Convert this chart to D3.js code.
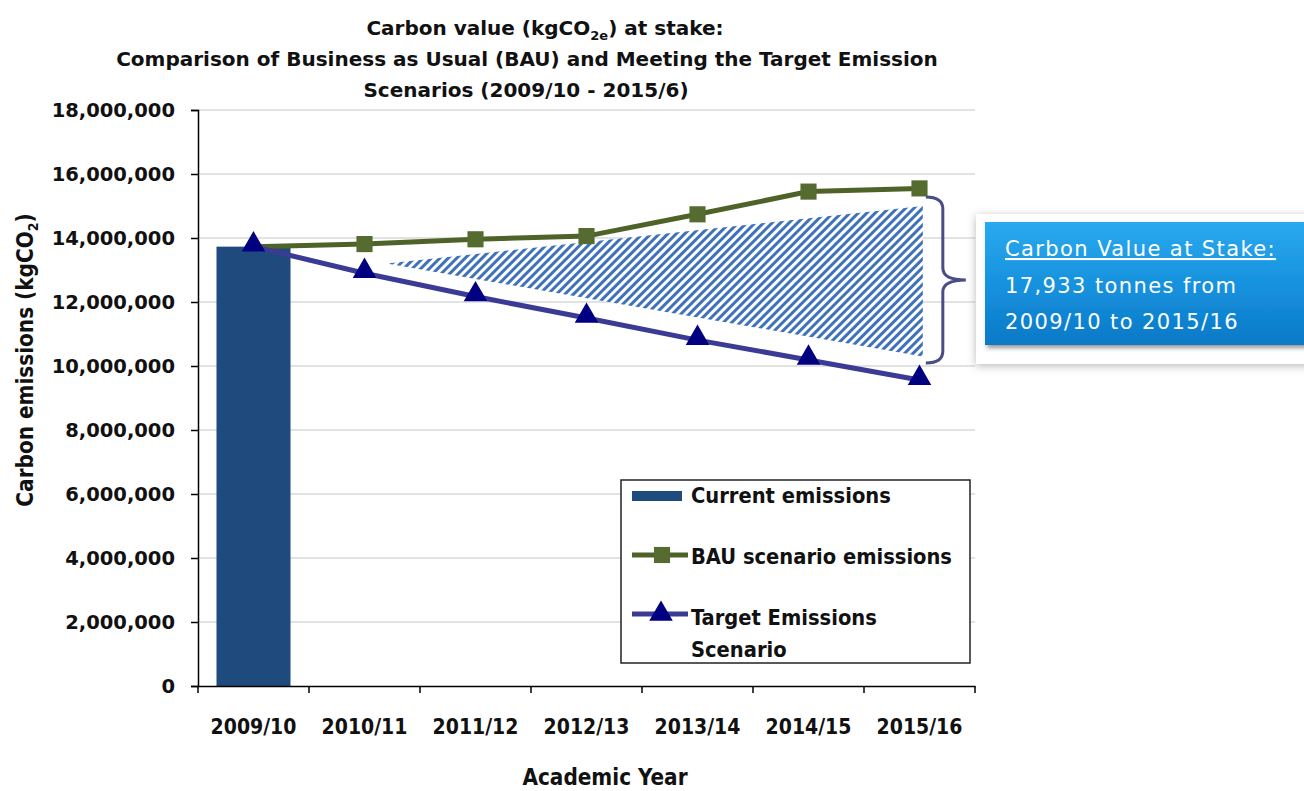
<!DOCTYPE html>
<html lang="en">
<head>
  <meta charset="UTF-8">
  <title>Carbon value at stake</title>
  <style>
    body { margin: 0; background: #fff; }
  </style>
</head>
<body>
  <script src="https://d3js.org/d3.v7.min.js"></script>
  <script>
    const years = ["2009/10", "2010/11", "2011/12", "2012/13", "2013/14", "2014/15", "2015/16"];
    const currentYears = ["2009/10"];
    const currentEmissions = [13730000];
    const bauEmissions = [13730000, 13810000, 13960000, 14060000, 14740000, 15450000, 15550000];
    const targetEmissions = [13730000, 12900000, 12170000, 11500000, 10810000, 10190000, 9560000];
    const yTicks = [0, 2000000, 4000000, 6000000, 8000000, 10000000, 12000000, 14000000, 16000000, 18000000];
    // the hatched "value at stake" wedge, in category-index / kg units
    const wedgeIndex = [1.2, 6.03];
    const wedgeTop = [13200000, 15000000];
    const wedgeBottom = [13200000, 10300000];
    const braceRange = [15280000, 10090000];

    const [width, height] = [1304, 791];
    const margin = { top: 110, right: 329, bottom: 105, left: 198 };
    const cond = "'DejaVu Sans Condensed', 'DejaVu Sans', sans-serif";
    const plain = "'DejaVu Sans', sans-serif";

    const x = d3.scaleBand()
      .domain(years)
      .range([margin.left, width - margin.right]);
    const y = d3.scaleLinear()
      .domain([0, 18000000])
      .range([height - margin.bottom, margin.top]);
    const cx = d => x(d) + x.bandwidth() / 2;
    const xi = d3.scaleLinear().domain([0, years.length - 1]).range([cx(years[0]), cx(years[years.length - 1])]);

    const svg = d3.select(document.body)
      .append("svg")
      .attr("width", width)
      .attr("height", height)
      .attr("viewBox", [0, 0, width, height])
      .attr("font-family", cond);

    const defs = svg.append("defs");
    const hatch = defs.append("pattern")
      .attr("id", "hatch")
      .attr("patternUnits", "userSpaceOnUse")
      .attr("width", 6).attr("height", 6)
      .attr("patternTransform", "rotate(45)");
    hatch.append("rect").attr("width", 6).attr("height", 6).attr("fill", "#fff");
    hatch.append("rect").attr("width", 3).attr("height", 6).attr("fill", "#3f72b8");

    const grad = defs.append("linearGradient")
      .attr("id", "boxGrad").attr("x1", 0).attr("y1", 0).attr("x2", 0).attr("y2", 1);
    grad.append("stop").attr("offset", "0%").attr("stop-color", "#2aa9ee");
    grad.append("stop").attr("offset", "55%").attr("stop-color", "#1590dd");
    grad.append("stop").attr("offset", "100%").attr("stop-color", "#0b79c6");

    const soft = defs.append("filter").attr("id", "soft")
      .attr("x", "-10%").attr("y", "-20%").attr("width", "130%").attr("height", "150%");
    soft.append("feDropShadow").attr("dx", 0).attr("dy", 2).attr("stdDeviation", 4)
      .attr("flood-color", "#888").attr("flood-opacity", 0.6);
    const hard = defs.append("filter").attr("id", "hard")
      .attr("x", "-10%").attr("y", "-20%").attr("width", "130%").attr("height", "150%");
    hard.append("feDropShadow").attr("dx", 2).attr("dy", 3).attr("stdDeviation", 2)
      .attr("flood-color", "#333").attr("flood-opacity", 0.5);

    // title
    const title = svg.append("g")
      .attr("font-family", plain)
      .attr("font-weight", "bold")
      .attr("font-size", 20)
      .attr("text-anchor", "middle")
      .attr("fill", "#111");
    const t1 = title.append("text").attr("x", 545).attr("y", 35);
    t1.append("tspan").text("Carbon value (kgCO");
    t1.append("tspan").attr("font-size", 13).attr("dy", 5).text("2e");
    t1.append("tspan").attr("dy", -5).text(") at stake:");
    title.append("text").attr("x", 527).attr("y", 66)
      .text("Comparison of Business as Usual (BAU) and Meeting the Target Emission");
    title.append("text").attr("x", 526).attr("y", 97)
      .text("Scenarios (2009/10 - 2015/6)");

    // gridlines
    svg.append("g")
      .attr("stroke", "#d9d9d9")
      .attr("stroke-width", 1.5)
      .selectAll("line")
      .data(yTicks.filter(d => d > 0))
      .join("line")
      .attr("x1", margin.left).attr("x2", width - margin.right)
      .attr("y1", d => y(d)).attr("y2", d => y(d));

    // y axis
    svg.append("g")
      .attr("transform", `translate(${margin.left},0)`)
      .call(d3.axisLeft(y).tickValues(yTicks).tickFormat(d3.format(",")).tickSize(7).tickPadding(16))
      .call(g => g.selectAll("path, line").attr("stroke", "#000").attr("stroke-width", 1.5))
      .call(g => g.selectAll("text")
        .attr("font-family", plain)
        .attr("font-weight", "bold")
        .attr("font-size", 19.5)
        .attr("fill", "#111"));

    const ylab = svg.append("text")
      .attr("transform", `translate(33,360) rotate(-90)`)
      .attr("text-anchor", "middle")
      .attr("font-weight", "bold")
      .attr("font-size", 22.3)
      .attr("fill", "#111");
    ylab.append("tspan").text("Carbon emissions (kgCO");
    ylab.append("tspan").attr("font-size", 14).attr("dy", 5).text("2");
    ylab.append("tspan").attr("dy", -5).text(")");

    // bar
    const barW = 74;
    svg.append("g")
      .attr("fill", "#1f4a7d")
      .selectAll("rect")
      .data(currentYears.map((d, i) => [d, currentEmissions[i]]))
      .join("rect")
      .attr("x", d => cx(d[0]) - barW / 2)
      .attr("width", barW)
      .attr("y", d => y(d[1]))
      .attr("height", d => y(0) - y(d[1]));

    // hatched wedge
    const area = d3.area()
      .x(d => xi(d[0]))
      .y0(d => y(d[2]))
      .y1(d => y(d[1]));
    svg.append("path")
      .datum(wedgeIndex.map((d, i) => [d, wedgeTop[i], wedgeBottom[i]]))
      .attr("fill", "url(#hatch)")
      .attr("d", area);

    // x axis
    const xAxisY = y(0);
    svg.append("g")
      .attr("transform", `translate(0,${xAxisY})`)
      .call(d3.axisBottom(x).tickSize(0).tickPadding(33))
      .call(g => g.select(".domain").attr("stroke", "#000").attr("stroke-width", 1.5))
      .call(g => g.selectAll("text")
        .attr("font-family", cond)
        .attr("font-weight", "bold")
        .attr("font-size", 21)
        .attr("fill", "#111"))
      .call(g => g.append("g")
        .attr("stroke", "#000")
        .attr("stroke-width", 1.5)
        .selectAll("line")
        .data(years.map(d => x(d)).concat([x.range()[1]]))
        .join("line")
        .attr("x1", d => d).attr("x2", d => d)
        .attr("y1", 0).attr("y2", 7));

    svg.append("text")
      .attr("x", 605)
      .attr("y", 785)
      .attr("text-anchor", "middle")
      .attr("font-weight", "bold")
      .attr("font-size", 22.3)
      .attr("fill", "#111")
      .text("Academic Year");

    // series
    const bauColor = "#4f6228";
    const targetColor = "#3b3b96";
    const line = d3.line().x((d, i) => cx(years[i])).y(d => y(d));

    svg.append("path")
      .datum(bauEmissions)
      .attr("fill", "none")
      .attr("stroke", bauColor)
      .attr("stroke-width", 5)
      .attr("d", line);
    svg.append("path")
      .datum(targetEmissions)
      .attr("fill", "none")
      .attr("stroke", targetColor)
      .attr("stroke-width", 5)
      .attr("d", line);

    const square = d3.symbol().type(d3.symbolSquare).size(260);
    const triangle = d3.symbol().type(d3.symbolTriangle).size(240);

    svg.append("g")
      .attr("fill", "#556b2f")
      .selectAll("path")
      .data(bauEmissions.slice(1))
      .join("path")
      .attr("transform", (d, i) => `translate(${cx(years[i + 1])},${y(d)})`)
      .attr("d", square);
    svg.append("g")
      .attr("fill", "#000080")
      .selectAll("path")
      .data(targetEmissions)
      .join("path")
      .attr("transform", (d, i) => `translate(${cx(years[i])},${y(d) - 2})`)
      .attr("d", triangle);

    // curly brace
    const bx = xi(wedgeIndex[1]) + 3;
    const [bTop, bBot] = braceRange.map(y);
    const bMid = (bTop + bBot) / 2;
    const arm = 17, tip = 40, r = 12;
    svg.append("path")
      .attr("fill", "none")
      .attr("stroke", "#4a4c88")
      .attr("stroke-width", 3)
      .attr("d", `M${bx},${bTop}
        Q${bx + arm},${bTop} ${bx + arm},${bTop + r}
        L${bx + arm},${bMid - r}
        Q${bx + arm},${bMid} ${bx + tip},${bMid}
        Q${bx + arm},${bMid} ${bx + arm},${bMid + r}
        L${bx + arm},${bBot - r}
        Q${bx + arm},${bBot} ${bx},${bBot}`);

    // callout
    const callout = svg.append("g");
    callout.append("rect")
      .attr("x", 976).attr("y", 214)
      .attr("width", 340).attr("height", 150)
      .attr("fill", "#fff")
      .attr("filter", "url(#soft)");
    callout.append("rect")
      .attr("x", 985).attr("y", 222)
      .attr("width", 330).attr("height", 123)
      .attr("fill", "url(#boxGrad)")
      .attr("filter", "url(#hard)");
    const ct = callout.append("g")
      .attr("font-family", plain)
      .attr("font-size", 21)
      .attr("letter-spacing", 1.4)
      .attr("fill", "#fff");
    ct.append("text").attr("x", 1005).attr("y", 256)
      .attr("text-decoration", "underline")
      .text("Carbon Value at Stake:");
    ct.append("text").attr("x", 1005).attr("y", 293).text("17,933 tonnes from");
    ct.append("text").attr("x", 1005).attr("y", 329).text("2009/10 to 2015/16");

    // legend
    const legend = svg.append("g").attr("transform", "translate(621,480)");
    legend.append("rect")
      .attr("width", 349).attr("height", 183)
      .attr("fill", "#fff")
      .attr("stroke", "#222")
      .attr("stroke-width", 1.5);
    legend.append("rect")
      .attr("x", 11).attr("y", 11).attr("width", 50).attr("height", 10)
      .attr("fill", "#1f4a7d");
    legend.append("line")
      .attr("x1", 11).attr("x2", 67).attr("y1", 75).attr("y2", 75)
      .attr("stroke", bauColor).attr("stroke-width", 5);
    legend.append("path")
      .attr("transform", "translate(41,75)")
      .attr("fill", "#556b2f")
      .attr("d", square);
    legend.append("line")
      .attr("x1", 11).attr("x2", 67).attr("y1", 134).attr("y2", 134)
      .attr("stroke", targetColor).attr("stroke-width", 5);
    legend.append("path")
      .attr("transform", "translate(40,134)")
      .attr("fill", "#000080")
      .attr("d", triangle);
    const lt = legend.append("g")
      .attr("font-weight", "bold")
      .attr("font-size", 21.7)
      .attr("fill", "#111");
    lt.append("text").attr("x", 70).attr("y", 23).text("Current emissions");
    lt.append("text").attr("x", 70).attr("y", 84).text("BAU scenario emissions");
    lt.append("text").attr("x", 70).attr("y", 145).text("Target Emissions");
    lt.append("text").attr("x", 70).attr("y", 177).text("Scenario");
  </script>
</body>
</html>
